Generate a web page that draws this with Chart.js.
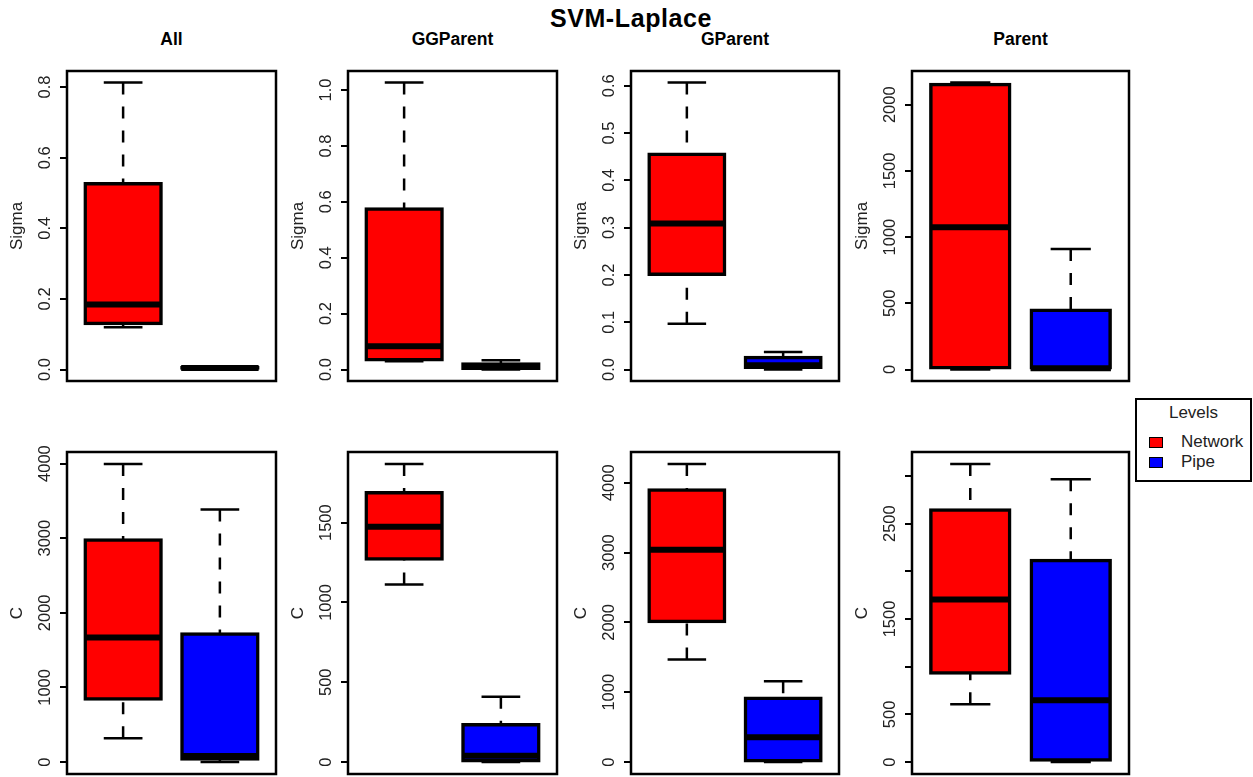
<!DOCTYPE html>
<html>
<head>
<meta charset="utf-8">
<script src="https://cdn.jsdelivr.net/npm/chart.js@4.4.0/dist/chart.umd.min.js"></script>
<style>
  body { margin: 0; background: #fff; width: 1253px; height: 777px; position: relative; overflow: hidden;
         font-family: "Liberation Sans", Arial, sans-serif; color: #000; }
  canvas { position: absolute; }
  .titulo { position: absolute; font-weight: bold; transform: translate(-50%, -50%); white-space: nowrap; }
  #leyenda { position: absolute; left: 1135px; top: 398px; width: 117px; height: 84px; box-sizing: border-box;
             border: 2px solid #000; font-size: 17px; }
  #leyenda .cab { position: absolute; left: 0; width: 100%; top: 3px; text-align: center; color: #222; }
  #leyenda .item { position: absolute; left: 44px; color: #222; }
  #leyenda .cuadro { position: absolute; left: 12px; width: 12px; height: 9px; border: 1.5px solid #000; }
</style>
</head>
<body>
<div class="titulo" style="left:631px; top:18px; font-size:25px; letter-spacing:0.6px;">SVM-Laplace</div>
<div id="leyenda">
  <div class="cab">Levels</div>
  <div class="cuadro" style="top:37px; background:#ff0000;"></div>
  <div class="item" style="top:32px;">Network</div>
  <div class="cuadro" style="top:57px; background:#0000ff;"></div>
  <div class="item" style="top:52px;">Pipe</div>
</div>
<script>
//Cada grupo es una columna de la figura
const grupos = ["All", "GGParent", "GParent", "Parent"];
const niveles = ["Network", "Pipe"];

//Cada caja: [min, q1, mediana, q3, max]
const sigmaNetwork = [
  [0.120, 0.128, 0.184, 0.528, 0.813],
  [0.030, 0.032, 0.083, 0.577, 1.027],
  [0.097, 0.200, 0.309, 0.457, 0.607],
  [0, 0, 1074, 2158, 2168]
];
const sigmaPipe = [
  [0.001, 0.002, 0.004, 0.007, 0.009],
  [0, 0.002, 0.010, 0.022, 0.033],
  [0, 0.003, 0.009, 0.027, 0.037],
  [0, 0, 10, 453, 911]
];
const cNetwork = [
  [319, 836, 1668, 2987, 3995],
  [1113, 1268, 1475, 1692, 1868],
  [1467, 2002, 3039, 3905, 4269],
  [606, 925, 1705, 2651, 3126]
];
const cPipe = [
  [0, 30, 80, 1726, 3385],
  [0, 4, 40, 238, 410],
  [0, 9, 355, 923, 1159],
  [0, 14, 648, 2121, 2966]
];

//Rango del eje y de cada panel
const rangoSigma = [[-0.0325, 0.8455], [-0.0411, 1.0681], [-0.0243, 0.6313], [-86.7, 2254.7]];
const rangoC = [[-159.8, 4154.8], [-74.7, 1942.7], [-170.8, 4439.8], [-125, 3251]];

//Marcas del eje y y sus etiquetas ('' = marca sin texto)
const marcasSigma = [
  [0, 0.2, 0.4, 0.6, 0.8],
  [0, 0.2, 0.4, 0.6, 0.8, 1.0],
  [0, 0.1, 0.2, 0.3, 0.4, 0.5, 0.6],
  [0, 500, 1000, 1500, 2000]
];
const etiquetasSigma = [
  ["0.0", "0.2", "0.4", "0.6", "0.8"],
  ["0.0", "0.2", "0.4", "0.6", "0.8", "1.0"],
  ["0.0", "0.1", "0.2", "0.3", "0.4", "0.5", "0.6"],
  ["0", "500", "1000", "1500", "2000"]
];
const marcasC = [
  [0, 1000, 2000, 3000, 4000],
  [0, 500, 1000, 1500],
  [0, 1000, 2000, 3000, 4000],
  [0, 500, 1000, 1500, 2000, 2500, 3000]
];
const etiquetasC = [
  ["0", "1000", "2000", "3000", "4000"],
  ["0", "500", "1000", "1500"],
  ["0", "1000", "2000", "3000", "4000"],
  ["0", "500", "", "1500", "", "2500", ""]
];

//Posición de los marcos (pixeles)
const columnas = [[67, 276], [348, 557], [631, 839], [912, 1129]];
const filas = [[71, 381], [452, 774]];
const margenV = 24;
const colores = ["#ff0000", "#0000ff"];
const fuente = '"Liberation Sans", Arial, sans-serif';

//Plugin que dibuja bigotes, medianas, marco y etiquetas del eje y
const cajas = {
  id: 'cajas',
  beforeDatasetsDraw(chart) {
    const {ctx, scales: {x, y}} = chart;
    const ds = chart.data.datasets[0];
    ctx.save();
    ctx.strokeStyle = '#000';
    ctx.lineWidth = 2.5;
    ds.cuantiles.forEach((c, i) => {
      const px = x.getPixelForValue(i + 1);
      const medio = x.getPixelForValue(i + 1.2) - px;
      ctx.setLineDash([12, 12]);
      ctx.beginPath();
      ctx.moveTo(px, y.getPixelForValue(c[4]));
      ctx.lineTo(px, y.getPixelForValue(c[3]));
      ctx.moveTo(px, y.getPixelForValue(c[0]));
      ctx.lineTo(px, y.getPixelForValue(c[1]));
      ctx.stroke();
      ctx.setLineDash([]);
      ctx.beginPath();
      [c[0], c[4]].forEach(v => {
        ctx.moveTo(px - medio, y.getPixelForValue(v));
        ctx.lineTo(px + medio, y.getPixelForValue(v));
      });
      ctx.stroke();
    });
    ctx.restore();
  },
  afterDatasetsDraw(chart) {
    const {ctx, scales: {x, y}} = chart;
    const ds = chart.data.datasets[0];
    ctx.save();
    ctx.strokeStyle = '#000';
    ctx.lineWidth = 6;
    ds.cuantiles.forEach((c, i) => {
      const py = y.getPixelForValue(c[2]);
      ctx.beginPath();
      ctx.moveTo(x.getPixelForValue(i + 0.6), py);
      ctx.lineTo(x.getPixelForValue(i + 1.4), py);
      ctx.stroke();
    });
    ctx.restore();
  },
  afterDraw(chart) {
    const {ctx, chartArea: a, scales: {y}} = chart;
    const ds = chart.data.datasets[0];
    ctx.save();
    ctx.strokeStyle = '#000';
    ctx.lineWidth = 2.5;
    ctx.strokeRect(a.left, a.top, a.right - a.left, a.bottom - a.top);
    ctx.fillStyle = '#222';
    ctx.font = '16.5px ' + fuente;
    ctx.textAlign = 'center';
    ctx.textBaseline = 'middle';
    ds.marcas.forEach((v, k) => {
      if (!ds.etiquetas[k]) return;
      ctx.save();
      ctx.translate(a.left - 21.5, y.getPixelForValue(v));
      ctx.rotate(-Math.PI / 2);
      ctx.fillText(ds.etiquetas[k], 0, 0);
      ctx.restore();
    });
    ctx.restore();
  }
};

function panel(fila, col, titulo, red, blue, rango, marcas, etiquetas) {
  const [l, r] = columnas[col];
  const [t, b] = filas[fila];
  const lienzo = document.createElement('canvas');
  lienzo.width = r - l + 64;
  lienzo.height = b - t + 2 * margenV;
  lienzo.style.left = (l - 62) + 'px';
  lienzo.style.top = (t - margenV) + 'px';
  document.body.appendChild(lienzo);

  new Chart(lienzo, {
    type: 'bar',
    data: {
      labels: niveles,
      datasets: [{
        data: [red, blue].map((c, i) => ({x: i + 1, y: [c[1], c[3]]})),
        cuantiles: [red, blue],
        marcas: marcas,
        etiquetas: etiquetas,
        backgroundColor: colores,
        borderColor: '#000',
        borderWidth: 3.5,
        borderSkipped: false,
        inflateAmount: 1,
        categoryPercentage: 1,
        barPercentage: 0.8
      }]
    },
    options: {
      responsive: false,
      animation: false,
      events: [],
      layout: {padding: {left: 2, right: 2, top: margenV, bottom: margenV}},
      plugins: {legend: {display: false}, tooltip: {enabled: false}},
      scales: {
        x: {
          type: 'linear', min: 0.42, max: 2.58, offset: false, display: false,
          afterBuildTicks: s => { s.ticks = [{value: 1}, {value: 2}]; }
        },
        y: {
          type: 'linear', min: rango[0], max: rango[1],
          afterBuildTicks: s => { s.ticks = marcas.map(v => ({value: v})); },
          afterFit: s => { s.width = 60; },
          ticks: {display: false},
          border: {display: false},
          grid: {drawOnChartArea: false, drawTicks: true, tickLength: 7, color: '#000', lineWidth: 2},
          title: {display: true, text: titulo, color: '#222', padding: 0,
                  font: {family: fuente, size: 17, lineHeight: 1.2}}
        }
      }
    },
    plugins: [cajas]
  });
}

grupos.forEach((g, i) => {
  const d = document.createElement('div');
  d.className = 'titulo';
  d.textContent = g;
  d.style.left = ((columnas[i][0] + columnas[i][1]) / 2) + 'px';
  d.style.top = '38.5px';
  d.style.fontSize = '17.5px';
  document.body.appendChild(d);
  panel(0, i, 'Sigma', sigmaNetwork[i], sigmaPipe[i], rangoSigma[i], marcasSigma[i], etiquetasSigma[i]);
  panel(1, i, 'C', cNetwork[i], cPipe[i], rangoC[i], marcasC[i], etiquetasC[i]);
});
</script>
</body>
</html>
